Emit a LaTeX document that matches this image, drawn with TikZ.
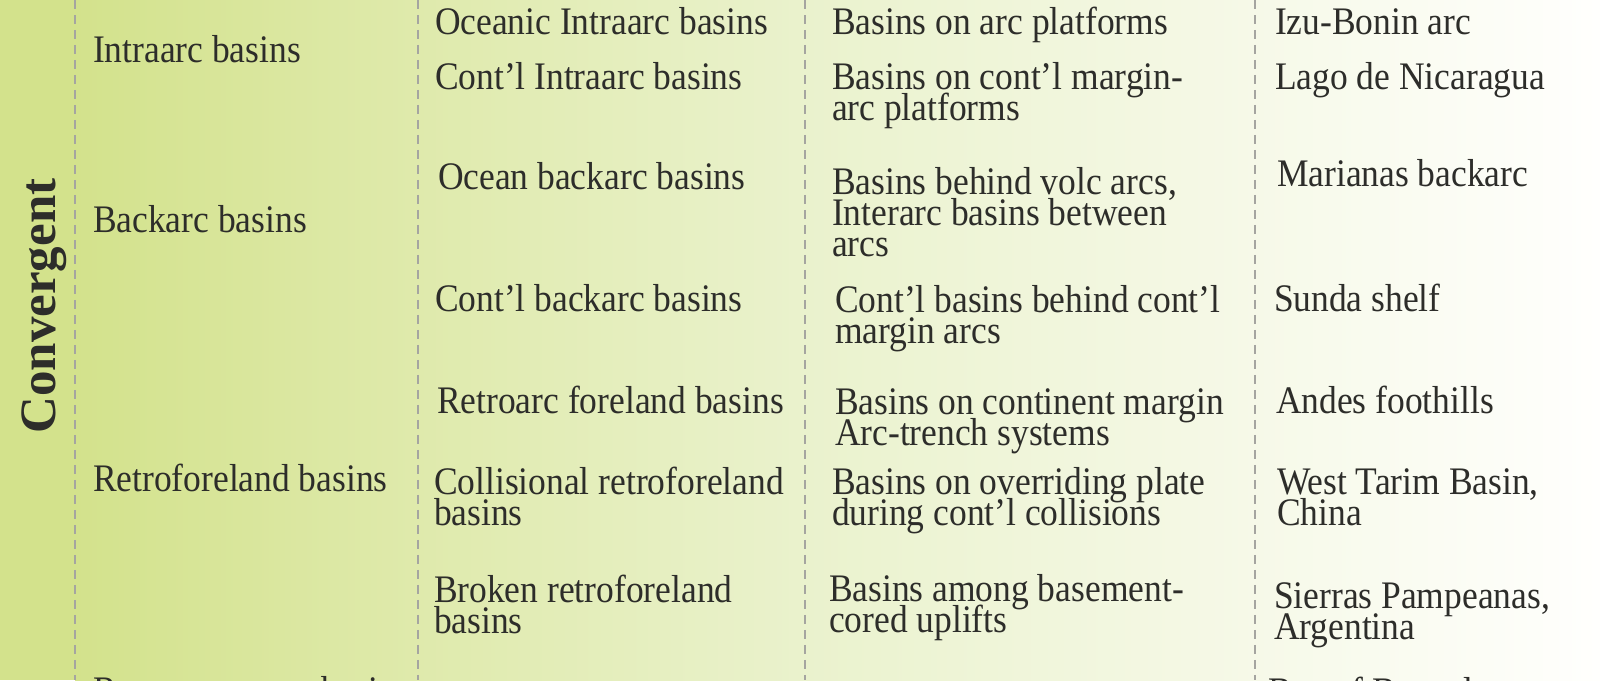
\documentclass[tikz,border=0pt]{standalone}
\usepackage{fontspec}
\setmainfont{Liberation Serif}[FakeStretch=0.91]
\newfontfamily\headfont{Liberation Serif}
\usetikzlibrary{positioning,calc}
\definecolor{bgleft}{RGB}{211,226,140}
\definecolor{bgone}{RGB}{223,234,172}
\definecolor{bgtwo}{RGB}{234,242,205}
\definecolor{bgthree}{RGB}{246,249,232}
\definecolor{bgright}{RGB}{255,255,253}
\definecolor{inkgray}{RGB}{45,45,42}
\definecolor{sepgray}{RGB}{165,165,160}
\newcommand\cellfont{\fontsize{22.2}{17.6}\selectfont\lineskiplimit -50pt\relax}

\begin{document}
\begin{tikzpicture}[x=0.02cm,y=-0.02cm,outer sep=0pt,inner sep=0pt]
      \tikzset{cell/.style={anchor=base west,align=left,text=inkgray,font=\cellfont}}
      \tikzset{sep/.style={draw=sepgray,line width=0.8pt,dash pattern=on 0.18cm off 0.12cm}}
      \tikzset{head/.style={text=inkgray,rotate=90,font=\headfont\bfseries\fontsize{29}{29}\selectfont}}

      \clip (0,0) rectangle (1600,680);
      % background
      \fill[bgleft] (0,0) rectangle (76,680);
      \shade[left color=bgleft,right color=bgone] (75,0) rectangle (419,680);
      \shade[left color=bgone,right color=bgtwo] (418,0) rectangle (806,680);
      \shade[left color=bgtwo,right color=bgthree] (805,0) rectangle (1256,680);
      \shade[left color=bgthree,right color=bgright] (1255,0) rectangle (1600,680);

      \foreach \x [count=\i] in {75,418,805,1255} {
        \coordinate (top\i) at (\x,0);
        \coordinate (bot\i) at (\x,680);
        \draw[sep] (top\i) -- (bot\i);
      }

      \node [head] (conv) at (44,306) {Convergent};

      % basin types
      \node [cell] (intra) at (93,62) {Intraarc basins};
      \node [cell] (back) at (93,232) {Backarc basins};
      \node [cell] (retro) at (93,491) {Retroforeland basins};
      \node [cell] (remnant) at (93,703) {Remnant ocean basins};

      % subtypes (multi-line cells sit on their last line)
      \node [cell] (oceintra) at (435,34) {Oceanic Intraarc basins};
      \node [cell] (contintra) at (435,89) {Cont'l Intraarc basins};
      \node [cell] (oceback) at (438,189) {Ocean backarc basins};
      \node [cell] (contback) at (435,311) {Cont'l backarc basins};
      \node [cell] (retroarc) at (437,413) {Retroarc foreland basins};
      \node [cell] (collretro) at (434,525) {Collisional retroforeland\\basins};
      \node [cell] (brokretro) at (434,633) {Broken retroforeland\\basins};

      % settings
      \node [cell] (setoceintra) at (832,34) {Basins on arc platforms};
      \node [cell] (setcontintra) at (832,120) {Basins on cont'l margin-\\arc platforms};
      \node [cell] (setoceback) at (832,256) {Basins behind volc arcs,\\Interarc basins between\\arcs};
      \node [cell] (setcontback) at (835,343) {Cont'l basins behind cont'l\\margin arcs};
      \node [cell] (setretroarc) at (835,445) {Basins on continent margin\\Arc-trench systems};
      \node [cell] (setcollretro) at (832,525) {Basins on overriding plate\\during cont'l collisions};
      \node [cell] (setbrokretro) at (829,632) {Basins among basement-\\cored uplifts};

      % examples
      \node [cell] (exoceintra) at (1275,34) {Izu-Bonin arc};
      \node [cell] (excontintra) at (1275,89) {Lago de Nicaragua};
      \node [cell] (exoceback) at (1277,186) {Marianas backarc};
      \node [cell] (excontback) at (1274,311) {Sunda shelf};
      \node [cell] (exretroarc) at (1276,413) {Andes foothills};
      \node [cell] (excollretro) at (1277,525) {West Tarim Basin,\\China};
      \node [cell] (exbrokretro) at (1274,639) {Sierras Pampeanas,\\Argentina};
      \node [cell] (exremnant) at (1268,704) {Bay of Bengal};
    \end{tikzpicture}
\end{document}
